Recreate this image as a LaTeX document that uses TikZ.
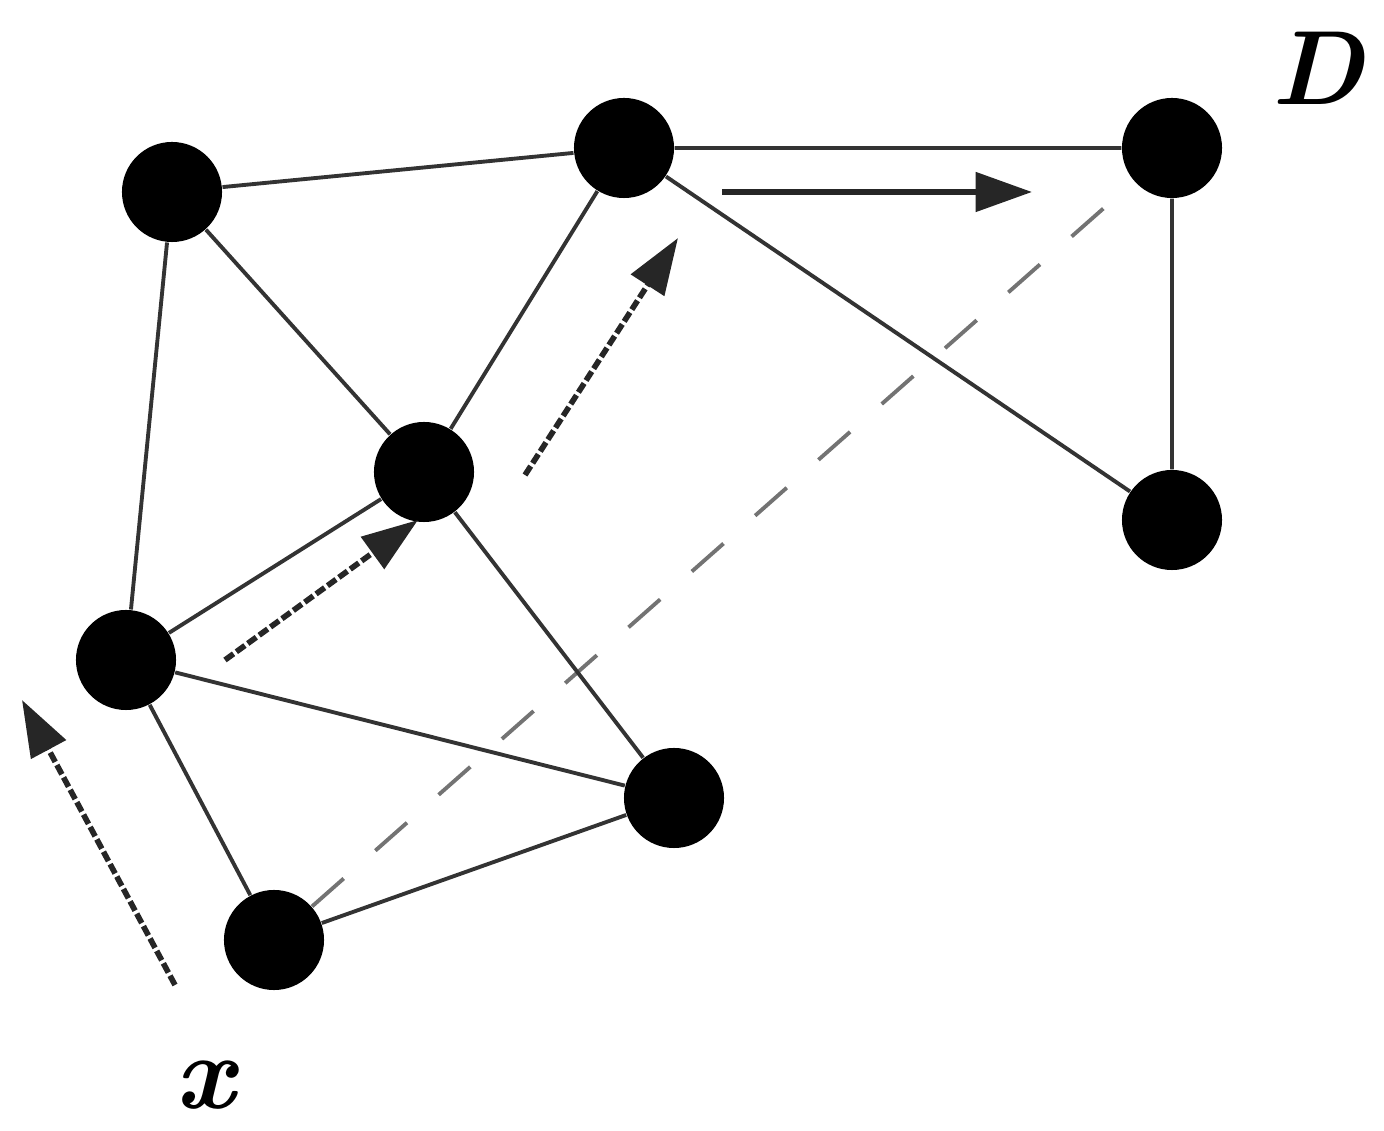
\documentclass[tikz,border=0pt]{standalone}
\usetikzlibrary{arrows.meta}
\begin{document}
\begin{tikzpicture}[x=0.01cm,y=-0.01cm,
  ball/.style={circle,fill=black,minimum size=1.0cm,inner sep=0pt},
  edge/.style={line width=1.1pt,black!80},
  dashline/.style={line width=1.1pt,black!55,dash pattern=on 12pt off 12pt},
  move/.style={line width=1.6pt,black!85,dash pattern=on 3pt off 1pt,-{Triangle[length=16pt,width=11pt]}},
  lab/.style={font=\bfseries\itshape\fontsize{30}{30}\selectfont}]
\useasboundingbox (0,0) rectangle (1384,1131);
\node[ball] (n1) at (172,192) {};
\node[ball] (n2) at (624,148) {};
\node[ball] (n3) at (1172,148) {};
\node[ball] (n4) at (424,472) {};
\node[ball] (n5) at (1172,520) {};
\node[ball] (n6) at (126,660) {};
\node[ball] (n7) at (674,798) {};
\node[ball] (n8) at (274,940) {};
\draw[dashline] (n8) -- (n3);
\draw[edge] (n1)--(n2) (n2)--(n3) (n3)--(n5) (n1)--(n4) (n1)--(n6) (n2)--(n4)
  (n2)--(n5) (n4)--(n6) (n4)--(n7) (n6)--(n7) (n6)--(n8) (n8)--(n7);
\coordinate (a1) at (722,192); \coordinate (a2) at (1032,192);
\coordinate (b1) at (525,475); \coordinate (b2) at (678,238);
\coordinate (c1) at (225,660); \coordinate (c2) at (418,520);
\coordinate (d1) at (175,985); \coordinate (d2) at (22,700);
\draw[move,dash pattern=] (a1) -- (a2);
\draw[move] (b1) -- (b2);
\draw[move] (c1) -- (c2);
\draw[move] (d1) -- (d2);
\node[lab] (D) at (1318,68) {D};
\node[lab] (X) at (205,1085) {x};
\end{tikzpicture}
\end{document}
